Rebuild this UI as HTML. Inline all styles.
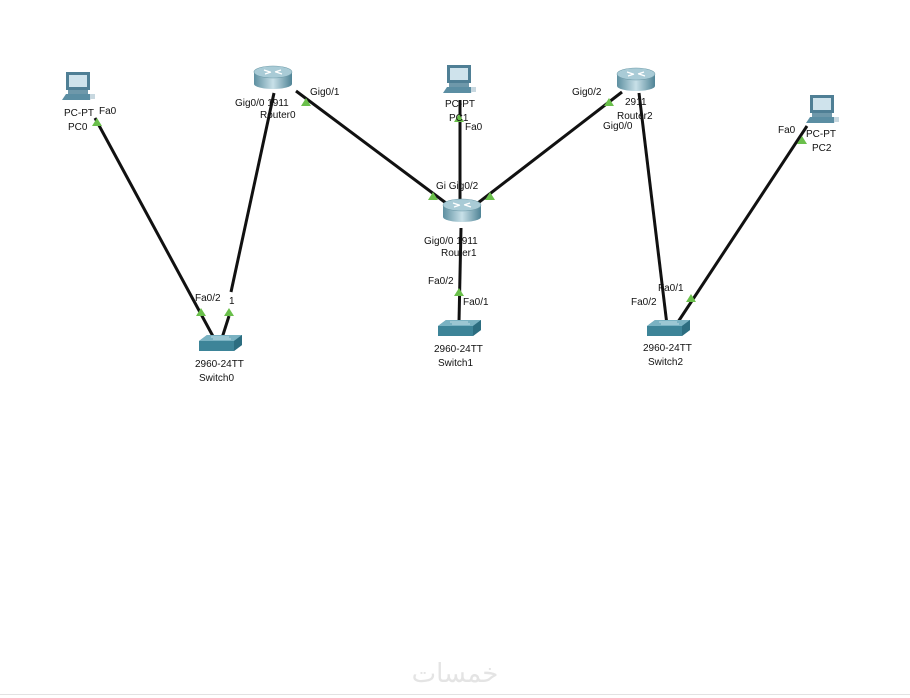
<!DOCTYPE html>
<html><head><style>
html,body{margin:0;padding:0;background:#fff;}
svg{display:block;}
text{font-family:"Liberation Sans",sans-serif;font-size:10px;fill:#111;}
</style></head><body>
<svg width="910" height="698" viewBox="0 0 910 698" xmlns="http://www.w3.org/2000/svg">
<defs>
<linearGradient id="rg" x1="0" y1="0" x2="1" y2="0">
<stop offset="0" stop-color="#5d8fa0"/><stop offset="0.5" stop-color="#c8e0e8"/><stop offset="1" stop-color="#4f8395"/>
</linearGradient>
<g id="router">
<path d="M-19,0 L-19,12 A19,5 0 0 0 19,12 L19,0 Z" fill="url(#rg)"/>
<ellipse cx="0" cy="0" rx="19" ry="6" fill="#a9cbd6" stroke="#6d9aa8" stroke-width="0.6"/>
<path d="M-9,-2 L-3,0 M3,0 L9,2 M-8,2 L-2,0 M2,0 L8,-2" stroke="#fff" stroke-width="1.2"/>
</g>
<g id="switch">
<polygon points="0,6 8,0 43,0 43,10 35,16 0,16" fill="#3d8498"/>
<polygon points="0,6 8,0 43,0 35,6" fill="#7ab2c2"/>
<polygon points="35,6 43,0 43,10 35,16" fill="#2c6d80"/>
<path d="M12,2 L30,2 M14,4 L32,4" stroke="#d6eaf0" stroke-width="0.8"/>
</g>
<g id="pc">
<rect x="4" y="0" width="24" height="18" fill="#4f7f95"/>
<rect x="7" y="3" width="18" height="12" fill="#cfe3ec"/>
<rect x="6" y="18" width="20" height="4" fill="#6e98aa"/>
<polygon points="0,28 4,22 30,22 28,28" fill="#5b8ea3"/>
<rect x="28" y="22" width="5" height="5" fill="#c8d8e0"/>
</g>
<g id="tri"><polygon points="-5,4 5,4 0,-4" fill="#6abf4b"/></g>
</defs>

<g stroke="#111" stroke-width="3" fill="none">
<line x1="95" y1="118" x2="215" y2="340"/>
<line x1="274" y1="93" x2="231" y2="292"/>
<line x1="229" y1="316" x2="222" y2="338"/>
<line x1="296" y1="91" x2="450" y2="206"/>
<line x1="460" y1="100" x2="460" y2="206"/>
<line x1="622" y1="92" x2="474" y2="206"/>
<line x1="639" y1="93" x2="667" y2="325"/>
<line x1="807" y1="126" x2="676" y2="325"/>
<line x1="461" y1="228" x2="459" y2="322"/>
</g>

<use href="#pc" x="62" y="72"/>
<use href="#pc" x="443" y="65"/>
<use href="#pc" x="806" y="95"/>
<use href="#router" x="273" y="72"/>
<use href="#router" x="462" y="205"/>
<use href="#router" x="636" y="74"/>
<use href="#switch" x="199" y="335"/>
<use href="#switch" x="438" y="320"/>
<use href="#switch" x="647" y="320"/>

<use href="#tri" x="97" y="122"/>
<use href="#tri" x="201" y="312"/>
<use href="#tri" x="229" y="312"/>
<use href="#tri" x="306" y="102"/>
<use href="#tri" x="433" y="196"/>
<use href="#tri" x="490" y="196"/>
<use href="#tri" x="459" y="118"/>
<use href="#tri" x="609" y="102"/>
<use href="#tri" x="459" y="292"/>
<use href="#tri" x="691" y="298"/>
<use href="#tri" x="802" y="140"/>

<text x="64" y="116">PC-PT</text>
<text x="99" y="114">Fa0</text>
<text x="68" y="130">PC0</text>
<text x="235" y="106">Gig0/0 1911</text>
<text x="260" y="118">Router0</text>
<text x="310" y="95">Gig0/1</text>
<text x="195" y="301">Fa0/2</text>
<text x="229" y="304">1</text>
<text x="195" y="367">2960-24TT</text>
<text x="199" y="381">Switch0</text>
<text x="445" y="107">PC-PT</text>
<text x="449" y="121">PC1</text>
<text x="465" y="130">Fa0</text>
<text x="436" y="189">Gi Gig0/2</text>
<text x="424" y="244">Gig0/0 1911</text>
<text x="441" y="256">Router1</text>
<text x="428" y="284">Fa0/2</text>
<text x="463" y="305">Fa0/1</text>
<text x="434" y="352">2960-24TT</text>
<text x="438" y="366">Switch1</text>
<text x="572" y="95">Gig0/2</text>
<text x="625" y="105">2911</text>
<text x="617" y="119">Router2</text>
<text x="603" y="129">Gig0/0</text>
<text x="778" y="133">Fa0</text>
<text x="806" y="137">PC-PT</text>
<text x="812" y="151">PC2</text>
<text x="658" y="291">Fa0/1</text>
<text x="631" y="305">Fa0/2</text>
<text x="643" y="351">2960-24TT</text>
<text x="648" y="365">Switch2</text>
<text x="455" y="682" style="font-size:26px;fill:#e4e4e4;font-family:'DejaVu Sans',sans-serif" text-anchor="middle">خمسات</text>
<line x1="0" y1="694.5" x2="910" y2="694.5" stroke="#e2e2e2" stroke-width="1"/>
</svg>
</body></html>
